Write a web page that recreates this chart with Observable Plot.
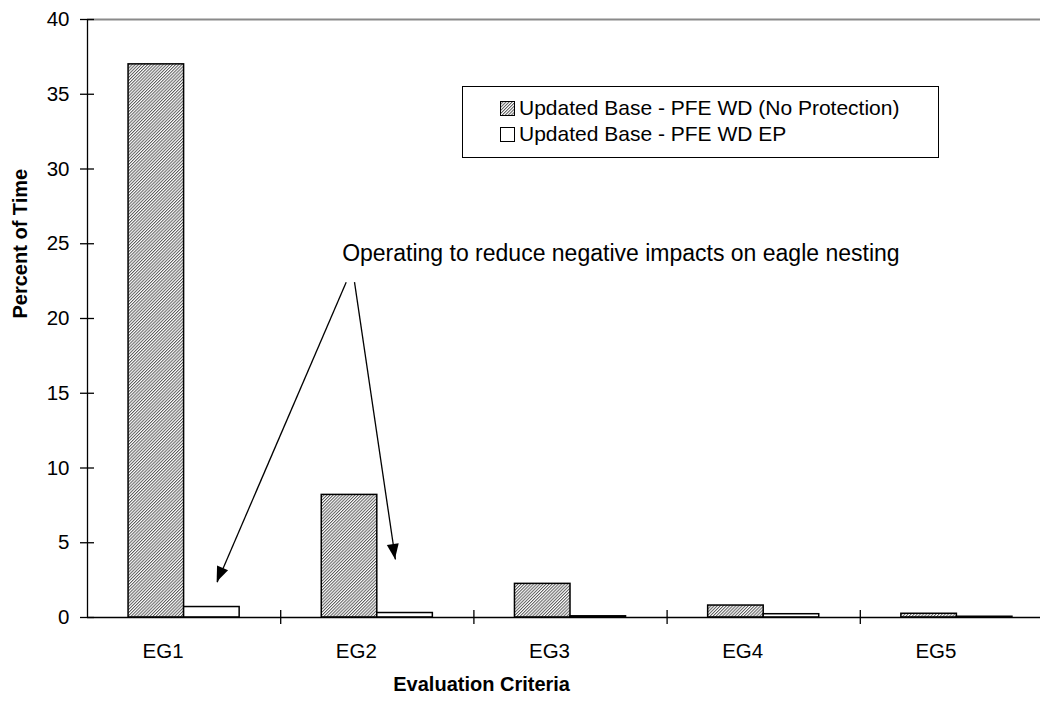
<!DOCTYPE html>
<html><head><meta charset="utf-8">
<script src="https://cdn.jsdelivr.net/npm/d3@7"></script>
<script src="https://cdn.jsdelivr.net/npm/@observablehq/plot@0.6"></script>
<style>
body{margin:0;background:#fff;font-family:"Liberation Sans",Arial,sans-serif;}
#wrap{position:relative;width:1040px;height:704px;overflow:hidden;}
#legend{position:absolute;left:462px;top:86px;width:475px;height:70px;border:1px solid #000;background:#fff;font-size:21px;color:#000;}
.row{position:absolute;left:37px;height:26px;line-height:26px;display:flex;align-items:center;white-space:nowrap;}
.row svg{margin-right:4px;}
</style></head><body><div id="wrap"></div>
<script>
const categories = ["EG1", "EG2", "EG3", "EG4", "EG5"];
const seriesNames = ["Updated Base - PFE WD (No Protection)", "Updated Base - PFE WD EP"];
const noProtection = [37, 8.2, 2.25, 0.8, 0.25];
const withEP = [0.7, 0.3, 0.08, 0.22, 0.05];
const yTicks = [0, 5, 10, 15, 20, 25, 30, 35, 40];
const xTitle = "Evaluation Criteria";
const yTitle = "Percent of Time";
const annotationText = "Operating to reduce negative impacts on eagle nesting";
const annotationX = [1.318];
const annotationY = [24.35];
const arrowFromX = [1.339, 1.382];
const arrowFromY = [22.43, 22.43];
const arrowToX = [0.671, 1.594];
const arrowToY = [2.36, 3.88];

const barStart = 0.2125, barWidth = 0.2875;
const rows0 = categories.map((c, i) => ({i, value: noProtection[i]}));
const rows1 = categories.map((c, i) => ({i, value: withEP[i]}));
const arrowIdx = arrowFromX.map((_, k) => k);
const hatchInk = "#5a5a5a";

function hatchDefs() {
  const g = d3.create("svg:g");
  const p = g.append("defs").append("pattern")
    .attr("id", "hatch").attr("patternUnits", "userSpaceOnUse")
    .attr("width", 2.2).attr("height", 2.2)
    .attr("patternTransform", "rotate(45)");
  p.append("rect").attr("width", 2.2).attr("height", 2.2).attr("fill", "#fff");
  p.append("rect").attr("width", 1.0).attr("height", 2.2).attr("fill", hatchInk);
  return g.node();
}

function arrowHeads(index, scales) {
  const g = d3.create("svg:g");
  arrowIdx.forEach(k => {
    const x1 = scales.x(arrowFromX[k]), y1 = scales.y(arrowFromY[k]);
    const x2 = scales.x(arrowToX[k]), y2 = scales.y(arrowToY[k]);
    const a = Math.atan2(y2 - y1, x2 - x1);
    const L = 15, W = 6;
    const bx = x2 - L * Math.cos(a), by = y2 - L * Math.sin(a);
    const pts = [[x2, y2], [bx + W * Math.sin(a), by - W * Math.cos(a)], [bx - W * Math.sin(a), by + W * Math.cos(a)]];
    g.append("path").attr("d", "M" + pts.map(p => p.join(",")).join("L") + "Z").attr("fill", "black");
  });
  return g.node();
}

const chart = Plot.plot({
  width: 1040,
  height: 704,
  marginLeft: 87,
  marginRight: 0,
  marginTop: 19,
  marginBottom: 87,
  style: {fontFamily: "Liberation Sans, Arial, sans-serif", fontSize: "20px", color: "black", background: "white"},
  x: {domain: [0, 5], range: [87, 1053], label: null, axis: null},
  y: {domain: [0, 40], label: null, axis: null},
  marks: [
    hatchDefs,
    Plot.ruleY([40], {stroke: "#8a8a8a", strokeWidth: 2}),
    Plot.rectY(rows0, {x1: d => d.i + barStart, x2: d => d.i + barStart + barWidth, y: "value", fill: "url(#hatch)", stroke: "black", strokeWidth: 1.5}),
    Plot.rectY(rows1, {x1: d => d.i + barStart + barWidth, x2: d => d.i + barStart + 2 * barWidth, y: "value", fill: "white", stroke: "black", strokeWidth: 1.5}),
    Plot.ruleY([0], {stroke: "black", strokeWidth: 1.3}),
    Plot.ruleX([0], {stroke: "black", strokeWidth: 1.3}),
    Plot.ruleY(yTicks, {x1: 0, x2: 0, insetLeft: -7, insetRight: -7, stroke: "black", strokeWidth: 1.3}),
    Plot.ruleX([1, 2, 3, 4, 5], {y1: 0, y2: 0, insetTop: -7, insetBottom: -7, stroke: "black", strokeWidth: 1.3}),
    Plot.axisY(yTicks, {tickSize: 0, tickPadding: 18, fontSize: 20.5, label: null}),
    Plot.axisX(categories.map((c, i) => i + 0.5), {tickFormat: d => categories[Math.round(d - 0.5)], tickSize: 0, tickPadding: 26, dx: -21, fontSize: 20.5, label: null}),
    Plot.link(arrowIdx, {x1: k => arrowFromX[k], y1: k => arrowFromY[k], x2: k => arrowToX[k], y2: k => arrowToY[k], stroke: "black", strokeWidth: 1.3}),
    arrowHeads,
    Plot.text([annotationText], {x: annotationX[0], y: annotationY[0], text: d => d, textAnchor: "start", fontSize: 23}),
    Plot.text([xTitle], {x: 2.04, frameAnchor: "bottom", dy: 73, text: d => d, fontSize: 20, fontWeight: "bold"}),
    Plot.text([yTitle], {frameAnchor: "left", dx: -67, rotate: -90, text: d => d, fontSize: 20, fontWeight: "bold"})
  ]
});

const wrap = document.getElementById("wrap");
wrap.appendChild(chart);

const legend = document.createElement("div");
legend.id = "legend";
const swatches = [
  `<svg width="15" height="15"><defs><pattern id="hatchL" patternUnits="userSpaceOnUse" width="2.2" height="2.2" patternTransform="rotate(45)"><rect width="2.2" height="2.2" fill="#fff"/><rect width="1" height="2.2" fill="${hatchInk}"/></pattern></defs><rect x="0.5" y="0.5" width="14" height="14" fill="url(#hatchL)" stroke="#000"/></svg>`,
  `<svg width="15" height="15"><rect x="0.5" y="0.5" width="14" height="14" fill="#fff" stroke="#000"/></svg>`
];
seriesNames.forEach((name, k) => {
  const r = document.createElement("div");
  r.className = "row";
  r.style.top = (8 + k * 26) + "px";
  r.innerHTML = swatches[k] + "<span></span>";
  r.querySelector("span").textContent = name;
  legend.appendChild(r);
});
wrap.appendChild(legend);
</script>
</body></html>
